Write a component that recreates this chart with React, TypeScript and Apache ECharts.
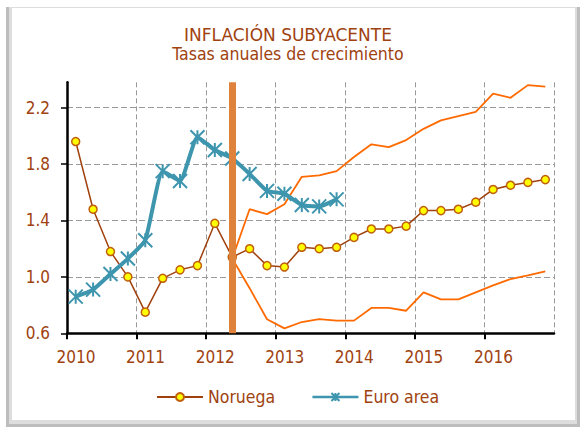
import React, { useEffect, useRef } from "react";
import * as echarts from "echarts";

// Quarterly data (first value = first quarter of the start period)
const noruegaStart = { year: 2010, quarter: 1 };
const noruega = [
  1.96, 1.48, 1.18, 1.0,
  0.75, 0.99, 1.05, 1.08,
  1.38, 1.14, 1.2, 1.08,
  1.07, 1.21, 1.2, 1.21,
  1.28, 1.34, 1.34, 1.36,
  1.47, 1.47, 1.48, 1.53,
  1.62, 1.65, 1.67, 1.69,
];

const euroStart = { year: 2010, quarter: 1 };
const euroArea = [
  0.86, 0.91, 1.02, 1.13,
  1.26, 1.75, 1.68, 1.99,
  1.9, 1.84, 1.73, 1.61,
  1.59, 1.51, 1.5, 1.55,
];

const bandStart = { year: 2012, quarter: 2 };
const bandUpper = [
  1.13, 1.48, 1.445,
  1.515, 1.71, 1.72, 1.75,
  1.85, 1.94, 1.92, 1.97,
  2.05, 2.11, 2.14, 2.17,
  2.3, 2.27, 2.36, 2.35,
];
const bandLower = [
  1.13, 0.92, 0.7,
  0.635, 0.68, 0.7, 0.69,
  0.69, 0.78, 0.78, 0.76,
  0.89, 0.84, 0.84, 0.89,
  0.94, 0.985, 1.01, 1.04,
];

// Vertical marker: 2012 Q2
const markerQuarter = { year: 2012, quarter: 2 };

const yearTicks = [2010, 2011, 2012, 2013, 2014, 2015, 2016];
const yTicks = [0.6, 1.0, 1.4, 1.8, 2.2];

const quarterToX = (start: { year: number; quarter: number }, i: number) =>
  start.year + (start.quarter - 1 + i + 0.5) / 4;

const toPairs = (start: { year: number; quarter: number }, values: number[]) =>
  values.map((v, i) => [quarterToX(start, i), v]);

const TEXT = "#A0420F";
const FONT = "'DejaVu Sans Condensed', 'DejaVu Sans', sans-serif";
const FONT_WIDE = "'DejaVu Sans', sans-serif";
const STAR = "path://M0,0L10,10M10,0L0,10M5,0L5,10";

export default function App() {
  const ref = useRef<HTMLDivElement>(null);

  useEffect(() => {
    document.body.style.margin = "0";
    if (!ref.current) return;
    const chart = echarts.init(ref.current, undefined, { renderer: "svg" });

    const option: any = {
      animation: false,
      backgroundColor: "transparent",
      graphic: [
        { type: "rect", z: -10, silent: true, shape: { x: 6, y: 7, width: 574, height: 420 }, style: { fill: "#bdbdbd" } },
        { type: "rect", z: -9, silent: true, shape: { x: 9, y: 7, width: 568, height: 417 }, style: { fill: "#dddddd" } },
        { type: "rect", z: -8, silent: true, shape: { x: 12, y: 8, width: 563, height: 412 }, style: { fill: "#ffffff" } },
      ],
      title: {
        text: "{a|INFLACIÓN SUBYACENTE}\n{b|Tasas anuales de crecimiento}",
        left: 283,
        textAlign: "center",
        top: 20,
        textStyle: {
          color: TEXT,
          fontFamily: FONT,
          fontSize: 17.5,
          fontWeight: "normal",
          lineHeight: 19.5,
          rich: {
            a: { color: TEXT, fontFamily: FONT_WIDE, fontSize: 17, lineHeight: 19.5, align: "center" },
            b: { color: TEXT, fontFamily: FONT, fontSize: 17.5, lineHeight: 19.5, align: "center" },
          },
        },
      },
      legend: {
        data: [
          { name: "Noruega" },
          { name: "Euro area", lineStyle: { width: 2.5 } },
        ],
        left: 151,
        top: 383,
        itemWidth: 46,
        itemHeight: 10,
        itemGap: 36,
        textStyle: { color: TEXT, fontFamily: FONT, fontSize: 17.5 },
      },
      grid: { left: 67, right: 27, top: 82.3, bottom: 96.7, containLabel: false },
      xAxis: {
        type: "value",
        min: yearTicks[0],
        max: yearTicks[yearTicks.length - 1] + 1,
        interval: 1,
        axisLine: { onZero: false, lineStyle: { color: "#000", width: 2.5 } },
        axisTick: { show: true, length: 6, lineStyle: { color: "#000", width: 2 } },
        axisLabel: {
          showMaxLabel: false,
          margin: 15,
          padding: [0, 0, 0, 18],
          color: TEXT,
          fontFamily: FONT,
          fontSize: 17,
          formatter: (v: number) => (yearTicks.includes(v) ? String(v) : ""),
        },
        splitLine: { show: true, lineStyle: { color: "#9a9a9a", width: 1, type: [5, 3] } },
      },
      yAxis: {
        type: "value",
        min: yTicks[0],
        max: 2.38,
        interval: 0.4,
        axisLine: { show: true, onZero: false, lineStyle: { color: "#000", width: 2.5 } },
        axisTick: { show: true, length: 6, lineStyle: { color: "#000", width: 1.5 } },
        axisLabel: {
          showMaxLabel: false,
          margin: 17,
          color: TEXT,
          fontFamily: FONT,
          fontSize: 17,
          formatter: (v: number) => v.toFixed(1),
        },
        splitLine: { show: true, showMaxLine: false, lineStyle: { color: "#9a9a9a", width: 1.2, type: [6, 3] } },
      },
      series: [
        {
          name: "Banda superior",
          type: "line",
          z: 1,
          data: toPairs(bandStart, bandUpper),
          symbol: "none",
          lineStyle: { color: "#FF6A00", width: 1.8 },
          itemStyle: { color: "#FF6A00" },
          markLine: {
            silent: true,
            symbol: "none",
            label: { show: false },
            lineStyle: { color: "#DE823C", width: 7, type: "solid" },
            data: [{ xAxis: quarterToX(markerQuarter, 0) }],
          },
        },
        {
          name: "Banda inferior",
          type: "line",
          z: 1,
          data: toPairs(bandStart, bandLower),
          symbol: "none",
          lineStyle: { color: "#FF6A00", width: 1.8 },
          itemStyle: { color: "#FF6A00" },
        },
        {
          name: "Noruega",
          type: "line",
          z: 3,
          data: toPairs(noruegaStart, noruega),
          symbol: "circle",
          symbolSize: 8,
          lineStyle: { color: "#A0410D", width: 1.5 },
          itemStyle: { color: "#FFFF00", borderColor: "#C0600F", borderWidth: 1.5 },
        },
        {
          name: "Euro area",
          type: "line",
          z: 4,
          smooth: 0.15,
          data: toPairs(euroStart, euroArea),
          symbol: STAR,
          symbolSize: 14,
          lineStyle: { color: "#3E95AE", width: 4 },
          itemStyle: { color: "#3E95AE", borderColor: "#3E95AE", borderWidth: 2 },
        },
      ],
    };

    chart.setOption(option);
    return () => chart.dispose();
  }, []);

  return <div ref={ref} style={{ width: 581, height: 430 }} />;
}
